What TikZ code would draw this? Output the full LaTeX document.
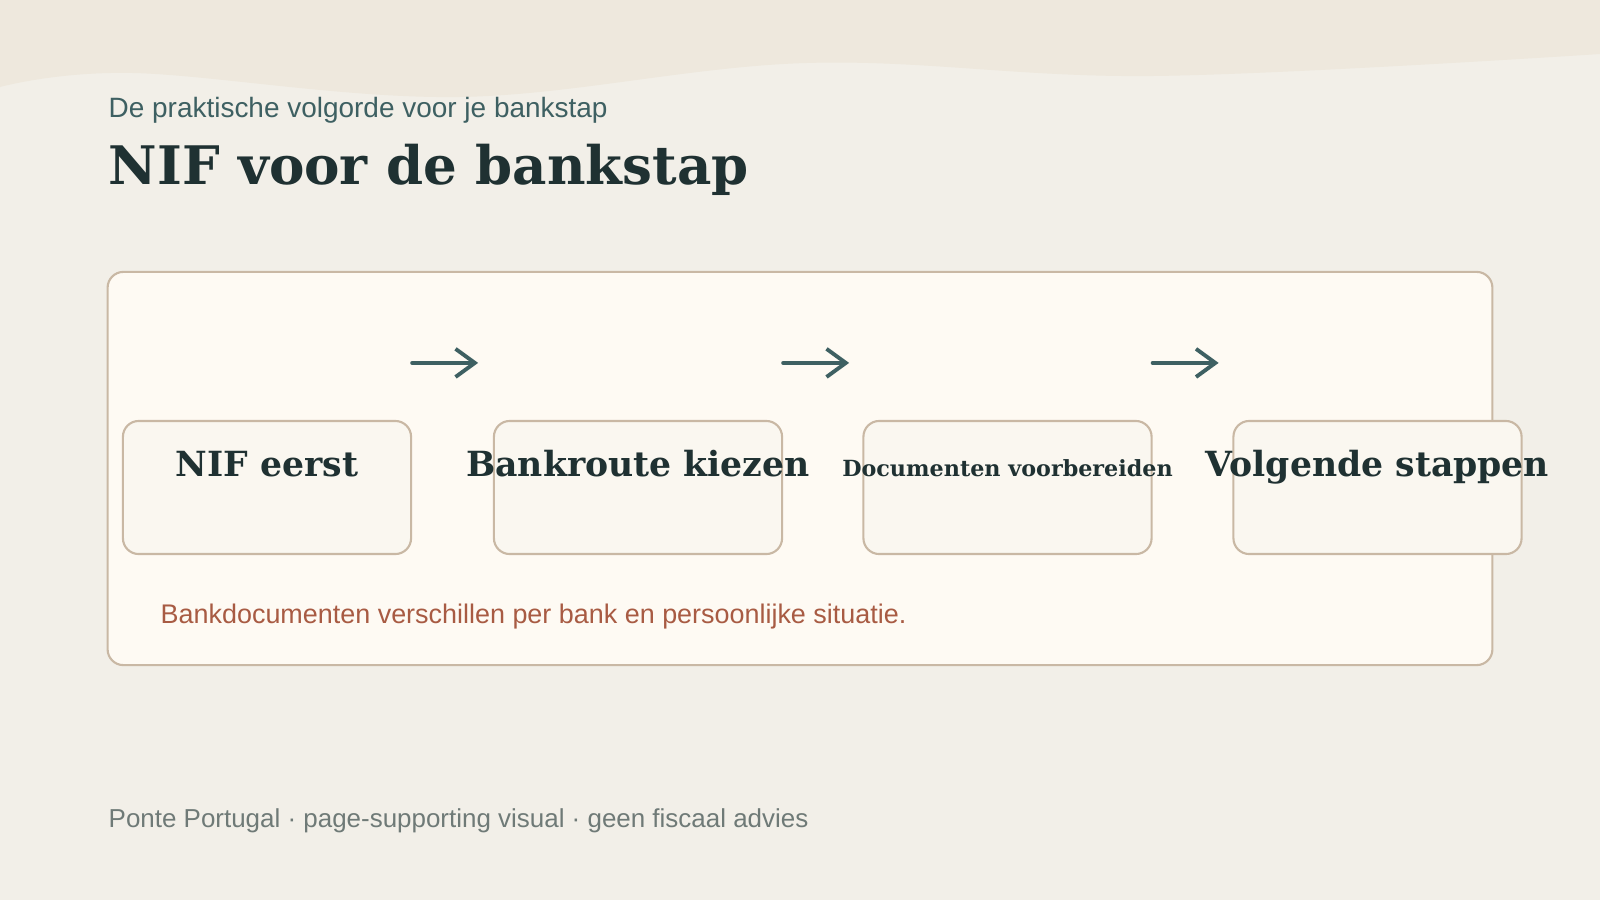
\documentclass[tikz,border=0pt]{standalone}
\usepackage{fontspec}
\setmainfont{DejaVu Serif}
\setsansfont{Liberation Sans}
\usetikzlibrary{arrows.meta}
\usetikzlibrary{positioning}

\definecolor{pagebg}{HTML}{F2EFE8}
\definecolor{bandbg}{HTML}{EEE8DD}
\definecolor{cardbg}{HTML}{FEFAF3}
\definecolor{boxbg}{HTML}{FAF7F0}
\definecolor{edge}{HTML}{C9B8A4}
\definecolor{ink}{HTML}{1F3132}
\definecolor{teal}{HTML}{3E6062}
\definecolor{rust}{HTML}{A85B43}
\definecolor{muted}{HTML}{6F7A77}

\tikzset{
  card/.style={draw=edge,fill=cardbg,line width=0.6pt,rounded corners=4.5pt,minimum width=13.84cm,minimum height=3.93cm,inner sep=0pt},
  stepbox/.style={draw=edge,fill=boxbg,line width=0.6pt,rounded corners=4.5pt,minimum width=2.88cm,minimum height=1.33cm,inner sep=0pt},
  steplabel/.style={anchor=base,text=ink,inner sep=0pt,font=\bfseries\fontsize{9.85}{11}\selectfont},
  flow/.style={draw=teal,line width=1.1pt,line cap=round,-{Straight Barb[length=5.5pt,width=8pt,line width=1.1pt]}},
  plaintext/.style={anchor=base west,inner sep=0pt,font=\sffamily\fontsize{7.7}{9}\selectfont}
}

\begin{document}
\begin{tikzpicture}[x=0.01cm,y=-0.01cm]
\useasboundingbox (0,0) rectangle (1600,900);
\fill[pagebg] (0,0) rectangle (1600,900);
% wavy top band
\fill[bandbg] (0,0) -- plot[smooth,tension=0.6] coordinates {(0,87) (133,73) (459,97) (806,63) (1153,76) (1600,54)} -- (1600,0) -- cycle;

\node[plaintext,text=teal,font=\sffamily\fontsize{7.95}{9}\selectfont] (kicker) at (108,117) {De praktische volgorde voor je bankstap};
\node[anchor=base west,inner sep=0pt,text=ink,font=\bfseries\fontsize{15.1}{18}\selectfont] (title) at (108,184) {NIF voor de bankstap};

\node[card] (card) at (800,468.5) {};

% the four steps
\node[stepbox] (nif) at (267,487.5) {};
\node[stepbox] (bank) at (638,487.5) {};
\node[stepbox] (docs) at (1007.5,487.5) {};
\node[stepbox] (next) at (1377.5,487.5) {};
\node[steplabel] (nift) at (267,476) {NIF eerst};
\node[steplabel] (bankt) at (638,476) {Bankroute kiezen};
\node[steplabel,font=\bfseries\fontsize{6.33}{8}\selectfont] (docst) at (1007.5,476) {Documenten voorbereiden};
\node[steplabel] (nextt) at (1377.5,476) {Volgende stappen};

\foreach \a in {nif,bank,docs} {
  \path (\a.north east) ++(0,-57) coordinate (\a-s) ++(66,0) coordinate (\a-e);
  \draw[flow] (\a-s) -- (\a-e);
}

\node[plaintext,text=rust,font=\sffamily\fontsize{7.66}{9}\selectfont] (note) at (160,623) {Bankdocumenten verschillen per bank en persoonlijke situatie.};
\node[plaintext,text=muted,font=\sffamily\fontsize{7.38}{9}\selectfont] (foot) at (108,827) {Ponte Portugal · page-supporting visual · geen fiscaal advies};
\end{tikzpicture}
\end{document}
